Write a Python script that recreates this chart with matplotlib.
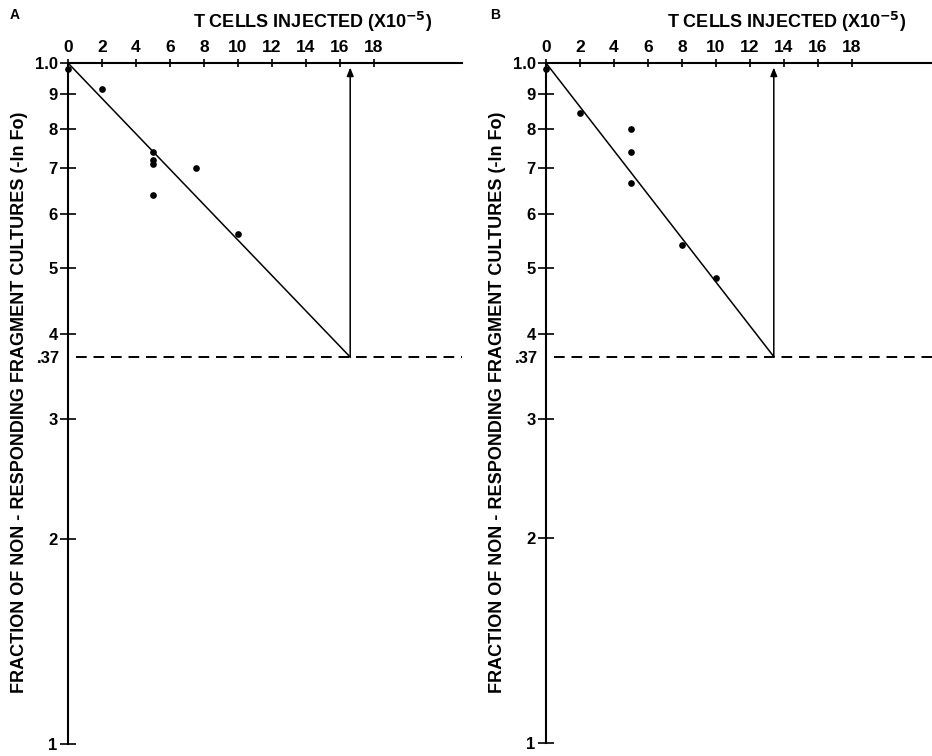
import matplotlib
matplotlib.use("Agg")
import matplotlib.pyplot as plt
from matplotlib.ticker import FixedLocator, FixedFormatter

plt.rcParams['font.family'] = ['Liberation Sans', 'DejaVu Sans']
plt.rcParams['font.weight'] = 'bold'

# ---- data ----
x_ticks = [0, 2, 4, 6, 8, 10, 12, 14, 16, 18]
x_ticklabels = ['0', '2', '4', '6', '8', '10', '12', '14', '16', '18']
y_ticks = [0.1, 0.2, 0.3, 0.4, 0.5, 0.6, 0.7, 0.8, 0.9, 1.0]
y_ticklabels = ['1', '2', '3', '4', '5', '6', '7', '8', '9', '1.0']
f37 = 0.37

xA = [0, 2, 5, 5, 5, 5, 7.5, 10]
yA = [0.98, 0.915, 0.74, 0.72, 0.71, 0.64, 0.70, 0.56]
fitA_x = [0, 16.6]
fitA_y = [1.0, 0.37]

xB = [0, 2, 5, 5, 5, 8, 10]
yB = [0.98, 0.845, 0.80, 0.74, 0.667, 0.54, 0.483]
fitB_x = [0, 13.4]
fitB_y = [1.0, 0.37]

W, H = 932, 756
fig = plt.figure(figsize=(W / 100, H / 100), dpi=100)


def px_axes(left, top, right, bottom):
    return fig.add_axes([left / W, 1 - bottom / H, (right - left) / W, (bottom - top) / H])


def draw_panel(ax, xs, ys, fx, fy, xmax):
    ax.set_yscale('log')
    ax.set_xlim(0, xmax)
    ax.set_ylim(0.1, 1.0)
    for s in ['right', 'bottom']:
        ax.spines[s].set_visible(False)
    for s in ['left', 'top']:
        ax.spines[s].set_linewidth(1.5)
    ax.xaxis.tick_top()
    ax.set_xticks(x_ticks)
    ax.set_xticklabels(x_ticklabels)
    ax.tick_params(axis='x', direction='inout', length=6, width=1.2, pad=3,
                   labelsize=12.5)
    ax.yaxis.set_major_locator(FixedLocator(y_ticks))
    ax.yaxis.set_major_formatter(FixedFormatter(y_ticklabels))
    ax.yaxis.set_minor_locator(FixedLocator([f37]))
    ax.yaxis.set_minor_formatter(FixedFormatter(['.37']))
    ax.tick_params(axis='y', which='major', direction='inout', length=11,
                   width=1.2, pad=2, labelsize=12)
    ax.tick_params(axis='y', which='minor', length=0, pad=6, labelsize=12)
    for t in ax.get_xticklabels() + ax.get_yticklabels(minor=False) + ax.get_yticklabels(minor=True):
        t.set_fontweight('bold')

    ax.plot(fx, fy, color='black', lw=1.1)
    ax.plot([0.45, xmax], [f37, f37], color='black', lw=1.4,
            dashes=(5.5, 3.5), clip_on=False)
    ax.annotate('', xy=(fx[1], 0.985), xytext=(fx[1], fy[1]),
                arrowprops=dict(arrowstyle='-|>,head_length=0.5,head_width=0.2',
                                color='black', lw=1.1, shrinkA=0, shrinkB=0))
    ax.plot(xs, ys, 'o', color='black', ms=3.8, clip_on=False)


axA = px_axes(68, 63, 462, 744)
draw_panel(axA, xA, yA, fitA_x, fitA_y, (462 - 68) / 17)

axB = px_axes(546, 63, 932, 743)
draw_panel(axB, xB, yB, fitB_x, fitB_y, (932 - 546) / 17)

title = 'T CELLS INJECTED (X10$^{\\mathbf{-5}}$)'
fig.text(313 / W, 1 - 22 / H, title, ha='center', va='center',
         fontsize=13, fontweight='bold')
fig.text(787 / W, 1 - 22 / H, title, ha='center', va='center',
         fontsize=13, fontweight='bold')

ylab = 'FRACTION OF NON - RESPONDING FRAGMENT CULTURES (-ln Fo)'
fig.text(20 / W, 1 - 402 / H, ylab, rotation=90, ha='center', va='center',
         fontsize=13, fontweight='bold')
fig.text(498 / W, 1 - 402 / H, ylab, rotation=90, ha='center', va='center',
         fontsize=13, fontweight='bold')

fig.text(15 / W, 1 - 15 / H, 'A', ha='center', va='center', fontsize=10, fontweight='bold')
fig.text(495 / W, 1 - 15 / H, 'B', ha='center', va='center', fontsize=10, fontweight='bold')

fig.savefig('out.png', dpi=100)
